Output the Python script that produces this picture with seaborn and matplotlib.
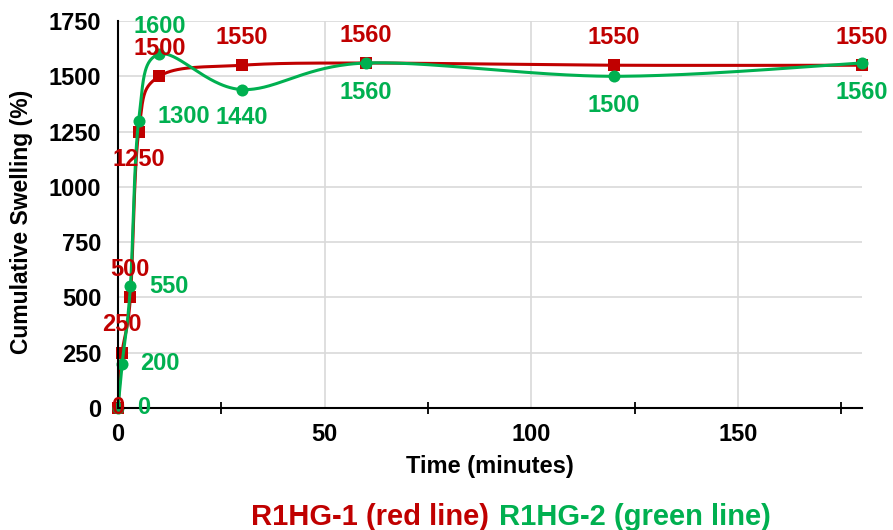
import numpy as np
import pandas as pd
import matplotlib
matplotlib.use("Agg")
import matplotlib.pyplot as plt
import seaborn as sns

# ---- data ----
time_min = [0, 1, 3, 5, 10, 30, 60, 120, 180]
r1hg1 = [0, 250, 500, 1250, 1500, 1550, 1560, 1550, 1550]
r1hg2 = [0, 200, 550, 1300, 1600, 1440, 1560, 1500, 1560]
series_names = ["R1HG-1", "R1HG-2"]
x_ticks = [0, 50, 100, 150]
x_minor = [25, 75, 125, 175]
y_ticks = [0, 250, 500, 750, 1000, 1250, 1500, 1750]

RED = "#C00000"
GREEN = "#00B050"

sns.set_theme(style="white")
plt.rcParams["font.family"] = ["Liberation Sans", "DejaVu Sans"]
plt.rcParams["font.weight"] = "bold"

df = pd.DataFrame({
    "time": time_min * 2,
    "swelling": r1hg1 + r1hg2,
    "series": [series_names[0]] * len(time_min) + [series_names[1]] * len(time_min),
})

fig = plt.figure(figsize=(8.93, 5.30), dpi=100)
ax = fig.add_axes([118 / 893, 1 - 408 / 530, (862 - 118) / 893, (408 - 21) / 530])
ax.set_xlim(0, 180)
ax.set_ylim(0, 1750)


def smooth(ax, xs, ys, n=60):
    pts = ax.transData.transform(np.column_stack([xs, ys]).astype(float))
    P = np.vstack([pts[0], pts, pts[-1]])
    out = []
    t = np.linspace(0, 1, n)[:, None]
    for i in range(1, len(P) - 2):
        p0, p1, p2, p3 = P[i - 1], P[i], P[i + 1], P[i + 2]
        c1 = p1 + (p2 - p0) / 6
        c2 = p2 - (p3 - p1) / 6
        seg = (1 - t) ** 3 * p1 + 3 * (1 - t) ** 2 * t * c1 + 3 * (1 - t) * t ** 2 * c2 + t ** 3 * p2
        out.append(seg)
    path = np.vstack(out)
    return ax.transData.inverted().transform(path)


colors = {series_names[0]: RED, series_names[1]: GREEN}
markers = {series_names[0]: "s", series_names[1]: "o"}

for k, name in enumerate(series_names):
    sub = df[df["series"] == name]
    curve = smooth(ax, sub["time"].values, sub["swelling"].values)
    ax.plot(curve[:, 0], curve[:, 1], color=colors[name], lw=2.2, zorder=2 + 2 * k,
            solid_capstyle="round", clip_on=False)
    sns.scatterplot(data=sub, x="time", y="swelling", color=colors[name],
                    marker=markers[name], s=75, linewidth=0, legend=False,
                    ax=ax, zorder=3 + 2 * k, clip_on=False)

# data labels
red_off = [(0, 0, "center"), (0, 20, "center"), (0, 20, "center"), (0, -20, "center"),
           (0, 20, "center"), (0, 20, "center"), (0, 20, "center"), (0, 20, "center"),
           (0, 20, "center")]
green_off = [(13.5, 0, "left"), (13, 0, "left"), (13.5, 0, "left"), (13.5, 3, "left"),
             (0, 20, "center"), (0, -20, "center"), (0, -21, "center"), (0, -21, "center"),
             (0, -21, "center")]
for vals, offs, col in [(r1hg1, red_off, RED), (r1hg2, green_off, GREEN)]:
    for x, y, (dx, dy, ha) in zip(time_min, vals, offs):
        ax.annotate(f"{y}", (x, y), xytext=(dx, dy), textcoords="offset points",
                    ha=ha, va="center", color=col, fontsize=17, fontweight="bold",
                    zorder=10, annotation_clip=False)

# axes styling
ax.set_xticks(x_ticks)
ax.set_xticks(x_minor, minor=True)
ax.set_yticks(y_ticks)
ax.set_xticklabels([str(v) for v in x_ticks])
ax.set_yticklabels([str(v) for v in y_ticks])
ax.tick_params(axis="both", which="major", direction="inout", length=10, width=1.3,
               color="black", labelsize=17, labelcolor="black")
ax.tick_params(axis="y", which="major", pad=7)
ax.tick_params(axis="x", which="major", pad=6)
ax.tick_params(axis="x", which="minor", direction="inout", length=8, width=1.3,
               color="black", bottom=True)
for lab in ax.get_xticklabels() + ax.get_yticklabels():
    lab.set_fontweight("bold")

ax.grid(True, which="major", color="#D9D9D9", lw=1.2)
ax.set_axisbelow(True)
for s in ["top", "right"]:
    ax.spines[s].set_visible(False)
for s in ["left", "bottom"]:
    ax.spines[s].set_color("black")
    ax.spines[s].set_linewidth(1.5)
    ax.spines[s].set_zorder(6)

ax.set_xlabel("Time (minutes)", fontsize=17, fontweight="bold", color="black")
ax.set_ylabel("Cumulative Swelling (%)", fontsize=16.5, fontweight="bold", color="black")
ax.xaxis.set_label_coords(0.5, -0.122)
ax.yaxis.set_label_coords(-0.114, 0.48)

fig.text(489 / 893, 5 / 530, "R1HG-1 (red line)", ha="right", va="baseline",
         color=RED, fontsize=21, fontweight="bold")
fig.text(499 / 893, 5 / 530, "R1HG-2 (green line)", ha="left", va="baseline",
         color=GREEN, fontsize=21, fontweight="bold")

fig.savefig("out.png", dpi=100)
